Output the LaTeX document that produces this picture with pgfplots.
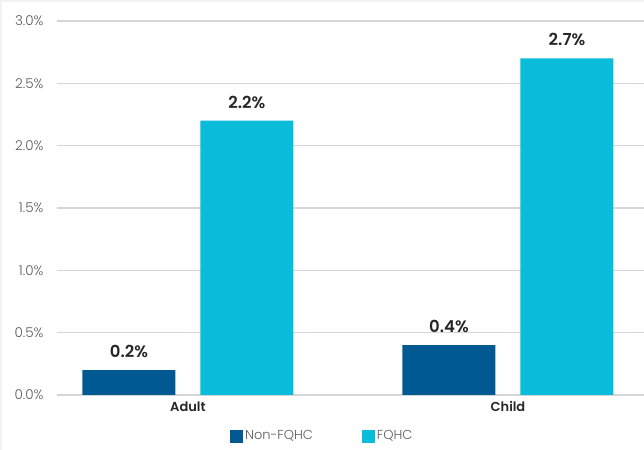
\documentclass[border=0pt]{standalone}
\usepackage{pgfplots}
\pgfplotsset{compat=1.18}
\usepackage{fontspec}
\setmainfont{Poppins}[BoldFont={Poppins SemiBold}]
\newfontfamily\lightfont{Poppins Light}

\definecolor{nonfqhc}{RGB}{0,90,145}
\definecolor{fqhc}{RGB}{8,188,218}
\definecolor{gridgray}{RGB}{214,214,214}
\definecolor{ticktext}{RGB}{90,90,90}
\definecolor{labeltext}{RGB}{38,38,38}

\begin{document}
\begin{tikzpicture}[x=1bp,y=1bp]
  % page frame: 644 x 450
  \useasboundingbox (0,0) rectangle (644,450);
  \fill[black!5] (0,447.5) rectangle (644,450);
  \fill[black!5] (0,0) rectangle (1.5,450);
  \begin{axis}[
    at={(57bp,55bp)}, anchor=south west,
    scale only axis,
    width=587bp, height=374bp,
    ybar=25bp, bar width=93bp,
    xmin=-0.409, xmax=1.425,
    ymin=0, ymax=3,
    xtick=data,
    xticklabels={Adult,Child},
    ytick={0,0.5,1,1.5,2,2.5,3},
    /pgf/number format/assume math mode=true,
    yticklabel={\pgfmathprintnumber[fixed,fixed zerofill,precision=1]{\tick}\%},
    yticklabel style={font=\lightfont\fontsize{13.5bp}{15bp}\selectfont, text=ticktext, xshift=-10bp},
    xticklabel style={font=\fontsize{13bp}{15bp}\selectfont\bfseries, text=labeltext, yshift=-3bp},
    major tick length=0pt,
    axis x line*=bottom,
    axis y line*=left,
    y axis line style={draw=none},
    x axis line style={gridgray, line width=1.2bp, -},
    ymajorgrids,
    grid style={gridgray, line width=1.2bp},
    nodes near coords={\pgfmathprintnumber[fixed,fixed zerofill,precision=1]{\pgfplotspointmeta}\%},
    nodes near coords style={font=\fontsize{16.5bp}{18bp}\selectfont\bfseries, text=labeltext, yshift=9bp},
    legend style={
      at={(0.452,-0.11)}, anchor=center,
      draw=none, fill=none,
      legend columns=2,
      font=\lightfont\fontsize{13bp}{15bp}\selectfont, text=ticktext,
      /tikz/every even column/.append style={column sep=47bp},
    },
    legend image code/.code={\fill[#1] (0bp,-6.5bp) rectangle (13bp,6.5bp);},
  ]
    \addplot[fill=nonfqhc, draw=none] coordinates {(0,0.2) (1,0.4)};
    \addplot[fill=fqhc, draw=none] coordinates {(0,2.2) (1,2.7)};
    \legend{Non-FQHC, FQHC}
  \end{axis}
\end{tikzpicture}
\end{document}
